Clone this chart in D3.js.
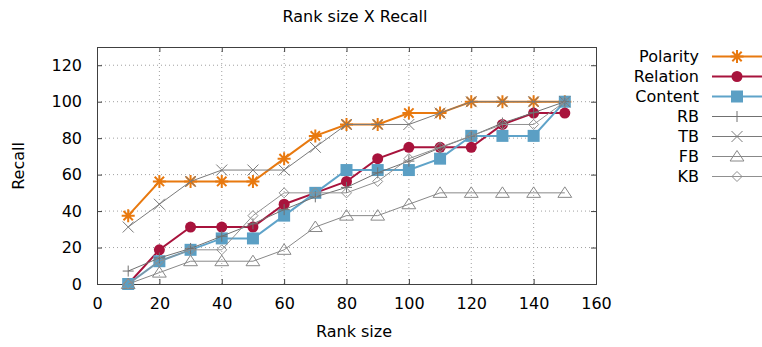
<!DOCTYPE html>
<html>
<head>
<meta charset="utf-8">
<script src="https://cdn.jsdelivr.net/npm/d3@7"></script>
<style>
  body { margin: 0; background: #fff; }
  svg text { font-family: "DejaVu Sans", sans-serif; font-size: 16px; fill: #000; }
</style>
</head>
<body>
<svg id="chart" width="762" height="347"></svg>
<script>
// rank sizes on the x axis
var rankSizes = [10, 20, 30, 40, 50, 60, 70, 80, 90, 100, 110, 120, 130, 140, 150];

// recall per method
var polarity = [37.5, 56.25, 56.25, 56.25, 56.25, 68.75, 81.25, 87.5, 87.5, 93.75, 93.75, 100, 100, 100, 100];
var relation = [0, 18.75, 31.25, 31.25, 31.25, 43.75, 50, 56.25, 68.75, 75, 75, 75, 87.5, 93.75, 93.75];
var content = [0, 12.5, 18.75, 25, 25, 37.5, 50, 62.5, 62.5, 62.5, 68.75, 81.25, 81.25, 81.25, 100];
var rb = [7.1, 14.3, 19.5, 26.2, 33, 40.8, 47.8, 53, 61, 67.4, 74.7, 81.1, 88.3, 94, 100];
var tb = [31.25, 43.75, 56.25, 62.5, 62.5, 62.5, 75, 87.5, 87.5, 87.5, 93.75, 100, 100, 100, 100];
var fb = [0, 6.25, 12.5, 12.5, 12.5, 18.75, 31.25, 37.5, 37.5, 43.75, 50, 50, 50, 50, 50];
var kb = [0, 12.5, 18.75, 18.75, 37.5, 50, 50, 50, 56.25, 68.75, 75, 81.25, 87.5, 87.5, 100];

var xTicks = [0, 20, 40, 60, 80, 100, 120, 140, 160];
var yTicks = [0, 20, 40, 60, 80, 100, 120];

var margin = {left: 97, right: 596, top: 47, bottom: 284};

var svg = d3.select('#chart');

var x = d3.scaleLinear().domain([0, 160]).range([margin.left, margin.right]);
var y = d3.scaleLinear().domain([0, 130]).range([margin.bottom, margin.top]);

// marker shapes, gnuplot style
var markers = {
  asterisk: function (s) {
    var d = s * 0.72;
    return 'M' + (-s) + ',0H' + s + 'M0,' + (-s) + 'V' + s +
        'M' + (-d) + ',' + (-d) + 'L' + d + ',' + d + 'M' + (-d) + ',' + d + 'L' + d + ',' + (-d);
  },
  plus: function (s) {
    return 'M' + (-s) + ',0H' + s + 'M0,' + (-s) + 'V' + s;
  },
  cross: function (s) {
    return 'M' + (-s) + ',' + (-s) + 'L' + s + ',' + s + 'M' + (-s) + ',' + s + 'L' + s + ',' + (-s);
  },
  triangle: function (s) {
    return 'M0,' + (-s) + 'L' + (s * 1.15) + ',' + (s * 0.75) + 'L' + (-s * 1.15) + ',' + (s * 0.75) + 'Z';
  },
  diamond: function (s) {
    return 'M0,' + (-s) + 'L' + s + ',0L0,' + s + 'L' + (-s) + ',0Z';
  },
  circle: function (s) {
    return 'M' + s + ',0A' + s + ',' + s + ' 0 1,1 ' + (-s) + ',0A' + s + ',' + s + ' 0 1,1 ' + s + ',0Z';
  },
  square: function (s) {
    return 'M' + (-s) + ',' + (-s) + 'H' + s + 'V' + s + 'H' + (-s) + 'Z';
  }
};

var series = [
  {name: 'Polarity', values: polarity, color: '#e8790f', width: 2, marker: 'asterisk', size: 6.5, fill: 'none', mstroke: 2},
  {name: 'Relation', values: relation, color: '#a8133c', width: 2, marker: 'circle', size: 5.5, fill: '#a8133c', mstroke: 0},
  {name: 'Content', values: content, color: '#5fa3c9', width: 2, marker: 'square', size: 6, fill: '#5b9fc4', mstroke: 0},
  {name: 'RB', values: rb, color: '#707070', width: 1, marker: 'plus', size: 5.5, fill: 'none', mstroke: 1},
  {name: 'TB', values: tb, color: '#7a7a7a', width: 1, marker: 'cross', size: 5.5, fill: 'none', mstroke: 1},
  {name: 'FB', values: fb, color: '#888888', width: 1, marker: 'triangle', size: 6, fill: 'none', mstroke: 1},
  {name: 'KB', values: kb, color: '#909090', width: 1, marker: 'diamond', size: 5, fill: 'none', mstroke: 1}
];

// grid
var grid = svg.append('g');
grid.selectAll('line.gx').data(xTicks.slice(1, -1)).enter().append('line')
    .attr('x1', function (d) { return x(d); })
    .attr('x2', function (d) { return x(d); })
    .attr('y1', margin.top).attr('y2', margin.bottom)
    .attr('stroke', '#a0a0a0').attr('stroke-width', 1).attr('stroke-dasharray', '1,3');
grid.selectAll('line.gy').data(yTicks.slice(1)).enter().append('line')
    .attr('y1', function (d) { return y(d); })
    .attr('y2', function (d) { return y(d); })
    .attr('x1', margin.left).attr('x2', margin.right)
    .attr('stroke', '#a0a0a0').attr('stroke-width', 1).attr('stroke-dasharray', '1,3');

// axes with inward ticks on all four sides
var axisColor = '#404040';
var bottomAxis = svg.append('g').attr('transform', 'translate(0,' + margin.bottom + ')')
    .call(d3.axisBottom(x).tickValues(xTicks).tickSizeInner(-5).tickSizeOuter(0).tickPadding(14));
var topAxis = svg.append('g').attr('transform', 'translate(0,' + margin.top + ')')
    .call(d3.axisTop(x).tickValues(xTicks).tickSizeInner(-5).tickSizeOuter(0).tickFormat(''));
var leftAxis = svg.append('g').attr('transform', 'translate(' + margin.left + ',0)')
    .call(d3.axisLeft(y).tickValues(yTicks).tickSizeInner(-5).tickSizeOuter(0).tickPadding(15));
var rightAxis = svg.append('g').attr('transform', 'translate(' + margin.right + ',0)')
    .call(d3.axisRight(y).tickValues(yTicks).tickSizeInner(-5).tickSizeOuter(0).tickFormat(''));

[bottomAxis, topAxis, leftAxis, rightAxis].forEach(function (a) {
  a.selectAll('.domain').remove();
  a.selectAll('line').attr('stroke', axisColor);
  a.selectAll('text').attr('font-family', '"DejaVu Sans", sans-serif').attr('font-size', 16).attr('fill', '#000');
});

svg.append('rect')
    .attr('x', margin.left + 0.5).attr('y', margin.top + 0.5)
    .attr('width', margin.right - margin.left).attr('height', margin.bottom - margin.top)
    .attr('fill', 'none').attr('stroke', axisColor).attr('stroke-width', 1);

// series: line then points, drawn in legend order
var line = d3.line()
    .x(function (d) { return x(d.x); })
    .y(function (d) { return y(d.y); });

series.forEach(function (s) {
  var pts = rankSizes.map(function (r, i) { return {x: r, y: s.values[i]}; });
  var g = svg.append('g');
  g.append('path')
      .attr('d', line(pts))
      .attr('fill', 'none')
      .attr('stroke', s.color)
      .attr('stroke-width', s.width);
  g.selectAll('path.pt').data(pts).enter().append('path')
      .attr('class', 'pt')
      .attr('transform', function (d) { return 'translate(' + x(d.x) + ',' + y(d.y) + ')'; })
      .attr('d', markers[s.marker](s.size))
      .attr('fill', s.fill)
      .attr('stroke', s.mstroke ? s.color : 'none')
      .attr('stroke-width', s.mstroke);
});

// legend
var legend = svg.append('g');
series.forEach(function (s, i) {
  var ly = 56.5 + i * 20;
  legend.append('text')
      .attr('x', 699).attr('y', ly).attr('dy', '0.35em')
      .attr('text-anchor', 'end')
      .text(s.name);
  legend.append('line')
      .attr('x1', 712).attr('x2', 762).attr('y1', ly).attr('y2', ly)
      .attr('stroke', s.color).attr('stroke-width', s.width);
  legend.append('path')
      .attr('transform', 'translate(737,' + ly + ')')
      .attr('d', markers[s.marker](s.size))
      .attr('fill', s.fill)
      .attr('stroke', s.mstroke ? s.color : 'none')
      .attr('stroke-width', s.mstroke);
});

// titles
svg.append('text')
    .attr('x', 355).attr('y', 22)
    .attr('text-anchor', 'middle')
    .text('Rank size X Recall');
svg.append('text')
    .attr('x', 354).attr('y', 337)
    .attr('text-anchor', 'middle')
    .text('Rank size');
svg.append('text')
    .attr('transform', 'translate(24,166) rotate(-90)')
    .attr('text-anchor', 'middle')
    .text('Recall');
</script>
</body>
</html>
